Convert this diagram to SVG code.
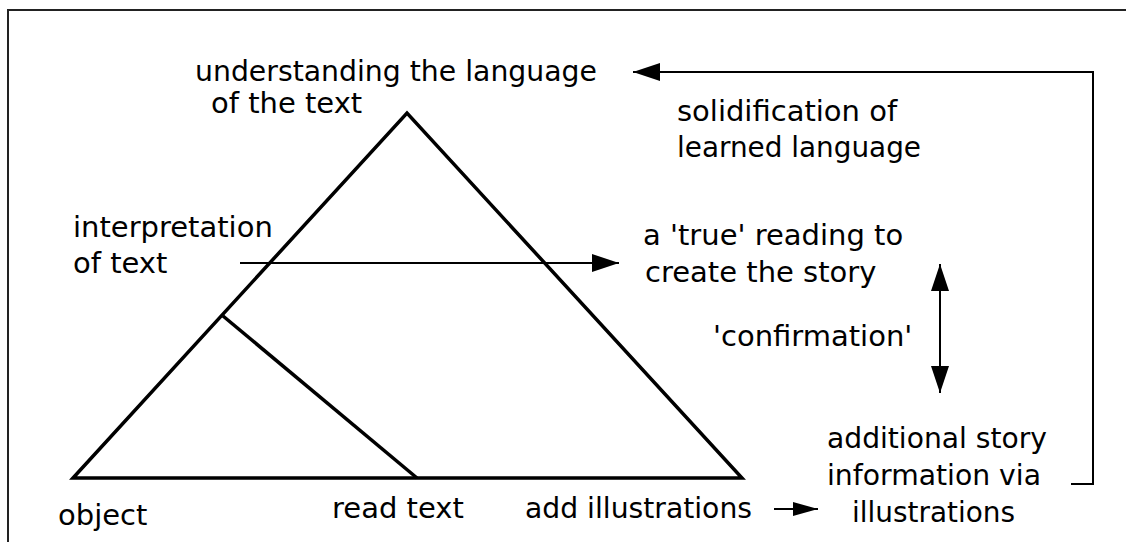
<svg xmlns="http://www.w3.org/2000/svg" width="1126" height="542" viewBox="0 0 1126 542">
<style>
text { font-family: "DejaVu Sans", "Noto Sans", sans-serif; font-size: 29px; fill: #000; }
.shape { fill: none; stroke: #000; stroke-width: 3.5; stroke-linejoin: miter; }
.conn { fill: none; stroke: #000; stroke-width: 2; }
</style>
<defs>
<marker id="ah" viewBox="0 0 27 18" refX="27" refY="9" markerWidth="27" markerHeight="18" markerUnits="userSpaceOnUse" orient="auto-start-reverse">
<path d="M0,0 L27,9 L0,18 z" fill="#000"/>
</marker>
<marker id="ahs" viewBox="0 0 25 14" refX="25" refY="7" markerWidth="25" markerHeight="14" markerUnits="userSpaceOnUse" orient="auto">
<path d="M0,0 L25,7 L0,14 z" fill="#000"/>
</marker>
</defs>
<rect width="1126" height="542" fill="#fff"/>
<rect x="8" y="10" width="1200" height="600" fill="none" stroke="#222" stroke-width="2"/>

<g id="pyramid">
<path class="shape" d="M73,478 L407,113 L742,478 Z"/>
<path class="shape" d="M223,316 L417,478"/>
</g>

<g id="connectors">
<path class="conn" d="M240,263 H619" marker-end="url(#ah)"/>
<path class="conn" d="M1071,484 H1093 V72 H633" marker-end="url(#ah)"/>
<path class="conn" d="M940,264 V393" marker-start="url(#ah)" marker-end="url(#ah)"/>
<path class="conn" d="M774,509 H818" marker-end="url(#ahs)"/>
</g>

<g id="node-understanding">
<text x="195" y="81" textLength="402" lengthAdjust="spacingAndGlyphs">understanding the language</text>
<text x="211" y="113">of the text</text>
</g>
<g id="node-solidification">
<text x="677" y="121">solidification of</text>
<text x="677" y="157" textLength="244" lengthAdjust="spacingAndGlyphs">learned language</text>
</g>
<g id="node-interpretation">
<text x="73" y="237">interpretation</text>
<text x="73" y="273">of text</text>
</g>
<g id="node-true-reading">
<text x="643" y="245">a 'true' reading to</text>
<text x="645" y="282">create the story</text>
</g>
<g id="node-confirmation">
<text x="713" y="346">'confirmation'</text>
</g>
<g id="node-additional">
<text x="827" y="448" textLength="220" lengthAdjust="spacingAndGlyphs">additional story</text>
<text x="827" y="485" textLength="214" lengthAdjust="spacingAndGlyphs">information via</text>
<text x="852" y="522" textLength="163" lengthAdjust="spacingAndGlyphs">illustrations</text>
</g>
<g id="node-object">
<text x="58" y="525">object</text>
</g>
<g id="node-read-text">
<text x="332" y="518">read text</text>
</g>
<g id="node-add-illustrations">
<text x="525" y="518" textLength="227" lengthAdjust="spacingAndGlyphs">add illustrations</text>
</g>
</svg>
